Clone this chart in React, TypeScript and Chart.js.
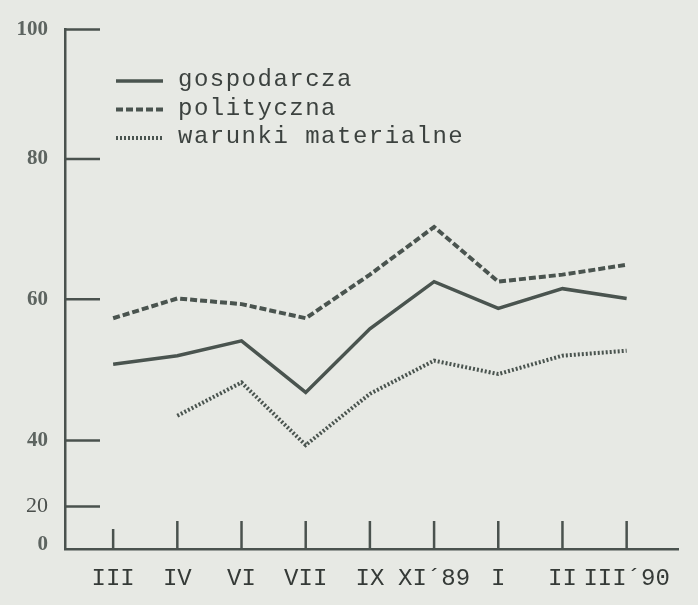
import React, { useEffect, useRef } from 'react';
import { Chart, registerables, LinearScale } from 'chart.js';

// ---- data ----
const categories = ['III', 'IV', 'VI', 'VII', 'IX', 'XI´89', 'I', 'II', 'III´90'];
const gospodarcza = [50.8, 52.0, 54.1, 46.8, 55.8, 62.5, 58.7, 61.5, 60.1];
const polityczna = [57.3, 60.1, 59.3, 57.3, 63.5, 70.3, 62.5, 63.5, 64.9];
const warunkiMaterialne = [null, 43.5, 48.2, 38.6, 46.6, 51.3, 49.4, 52.0, 52.7];
const yTickValues = [0, 20, 40, 60, 80, 100];
const seriesLabels = ['gospodarcza', 'polityczna', 'warunki materialne'];

// ---- styling ----
const PAPER = '#e7e9e4';
const INK = '#4a544f';
const AXIS = '#4a524e';

// broken (piecewise) vertical axis, as printed in the source
const breakValues = [0, 20, 40, 60, 80, 100];
const breakFractions = [0.008, 0.082, 0.209, 0.481, 0.751, 1.0];

function valueToFraction(v: number): number {
  const n = breakValues.length;
  if (v <= breakValues[0]) {
    const s = (breakFractions[1] - breakFractions[0]) / (breakValues[1] - breakValues[0]);
    return breakFractions[0] + (v - breakValues[0]) * s;
  }
  for (let i = 1; i < n; i++) {
    if (v <= breakValues[i]) {
      const t = (v - breakValues[i - 1]) / (breakValues[i] - breakValues[i - 1]);
      return breakFractions[i - 1] + t * (breakFractions[i] - breakFractions[i - 1]);
    }
  }
  const s = (breakFractions[n - 1] - breakFractions[n - 2]) / (breakValues[n - 1] - breakValues[n - 2]);
  return breakFractions[n - 1] + (v - breakValues[n - 1]) * s;
}

function fractionToValue(f: number): number {
  const n = breakFractions.length;
  for (let i = 1; i < n; i++) {
    if (f <= breakFractions[i] || i === n - 1) {
      const t = (f - breakFractions[i - 1]) / (breakFractions[i] - breakFractions[i - 1]);
      return breakValues[i - 1] + t * (breakValues[i] - breakValues[i - 1]);
    }
  }
  return breakValues[n - 1];
}

class BrokenLinearScale extends LinearScale {
  static id = 'brokenLinear';
  static defaults = (LinearScale as any).defaults;
  getPixelForValue(value: number): number {
    const self = this as any;
    return self.bottom - valueToFraction(value) * (self.bottom - self.top);
  }
  getValueForPixel(pixel: number): number {
    const self = this as any;
    return fractionToValue((self.bottom - pixel) / (self.bottom - self.top));
  }
}

Chart.register(...registerables, BrokenLinearScale as any);

const toPoints = (arr: (number | null)[]) => arr.map((v, i) => ({ x: i, y: v }));

const paperPlugin = {
  id: 'paper',
  beforeDraw(chart: any) {
    const { ctx, width, height } = chart;
    ctx.save();
    ctx.fillStyle = PAPER;
    ctx.fillRect(0, 0, width, height);
    ctx.restore();
  },
};

const decorPlugin = {
  id: 'decor',
  afterDraw(chart: any) {
    const { ctx, chartArea } = chart;
    const x = chart.scales.x;
    const y = chart.scales.y;
    ctx.save();
    ctx.strokeStyle = AXIS;
    ctx.lineWidth = 2.5;
    ctx.setLineDash([]);
    // y tick marks (inside, to the right of the axis)
    y.ticks.forEach((t: any, i: number) => {
      if (t.value === 0) return;
      const py = y.getPixelForTick(i);
      ctx.beginPath();
      ctx.moveTo(chartArea.left, py);
      ctx.lineTo(chartArea.left + 35, py);
      ctx.stroke();
    });
    // x tick marks (upward from the axis)
    x.ticks.forEach((_t: any, i: number) => {
      const px = x.getPixelForTick(i);
      ctx.beginPath();
      ctx.moveTo(px, chartArea.bottom);
      ctx.lineTo(px, chartArea.bottom - (i === 0 ? 20 : 28));
      ctx.stroke();
    });

    // legend
    const rows = chart.data.datasets.map((ds: any, i: number) => ({
      label: ds.label,
      dash: ds.borderDash || [],
      width: ds.borderWidth,
      baseline: 86 + i * 28.5,
    }));
    ctx.font = "24px 'Liberation Mono'";
    (ctx as any).letterSpacing = '1.5px';
    ctx.textBaseline = 'alphabetic';
    ctx.textAlign = 'left';
    rows.forEach((r: any) => {
      ctx.strokeStyle = INK;
      ctx.lineWidth = r.width;
      ctx.setLineDash(r.dash);
      ctx.beginPath();
      ctx.moveTo(116, r.baseline - 5);
      ctx.lineTo(163, r.baseline - 5);
      ctx.stroke();
      ctx.setLineDash([]);
      ctx.fillStyle = '#3c423f';
      ctx.fillText(r.label, 178, r.baseline);
    });
    ctx.restore();
  },
};

export default function App() {
  const canvasRef = useRef<HTMLCanvasElement | null>(null);

  useEffect(() => {
    document.body.style.margin = '0';
    document.body.style.background = PAPER;
    const canvas = canvasRef.current;
    if (!canvas) return;
    const chart = new Chart(canvas, {
      type: 'line',
      data: {
        datasets: [
          {
            label: seriesLabels[0],
            data: toPoints(gospodarcza),
            borderColor: INK,
            borderWidth: 3.5,
            pointRadius: 0,
            fill: false,
            tension: 0,
          },
          {
            label: seriesLabels[1],
            data: toPoints(polityczna),
            borderColor: INK,
            borderWidth: 4,
            borderDash: [7, 3],
            pointRadius: 0,
            fill: false,
            tension: 0,
          },
          {
            label: seriesLabels[2],
            data: toPoints(warunkiMaterialne),
            borderColor: INK,
            borderWidth: 4,
            borderDash: [2, 2],
            pointRadius: 0,
            fill: false,
            tension: 0,
            spanGaps: false,
          },
        ],
      },
      options: {
        animation: false,
        responsive: false,
        devicePixelRatio: 1,
        layout: { padding: { top: 27, right: 20, left: 0, bottom: 0 } },
        plugins: {
          legend: { display: false },
          tooltip: { enabled: false },
        },
        scales: {
          x: {
            type: 'linear',
            min: -0.75,
            max: 8.8,
            afterBuildTicks: (s: any) => {
              s.ticks = categories.map((_c, i) => ({ value: i }));
            },
            afterFit: (s: any) => {
              s.height = 56;
            },
            grid: { display: false, drawTicks: false },
            border: { display: true, color: AXIS, width: 2.5 },
            ticks: {
              autoSkip: false,
              maxRotation: 0,
              minRotation: 0,
              padding: 15,
              color: '#353a37',
              font: { family: "'Liberation Mono'", size: 24 },
              callback: (_v: any, i: number) => categories[i],
            },
          },
          y: {
            type: 'brokenLinear' as any,
            min: 0,
            max: 100,
            afterBuildTicks: (s: any) => {
              s.ticks = yTickValues.map((v) => ({ value: v }));
            },
            afterFit: (s: any) => {
              s.width = 65;
            },
            grid: { display: false, drawTicks: false },
            border: { display: true, color: AXIS, width: 2.5 },
            ticks: {
              padding: 17,
              color: (c: any) => (c.tick && c.tick.value === 20 ? '#4a4f4c' : '#5d6460'),
              font: (c: any) =>
                c.tick && c.tick.value === 20
                  ? { family: "'Liberation Serif'", size: 22, weight: 'normal' }
                  : { family: "'Liberation Serif'", size: 21, weight: 'bold' },
              callback: (v: any) => String(v),
            },
          },
        },
      } as any,
      plugins: [paperPlugin, decorPlugin],
    });
    return () => chart.destroy();
  }, []);

  return (
    <div style={{ width: 698, height: 605 }}>
      <canvas ref={canvasRef} width={698} height={605} style={{ display: 'block' }} />
    </div>
  );
}
